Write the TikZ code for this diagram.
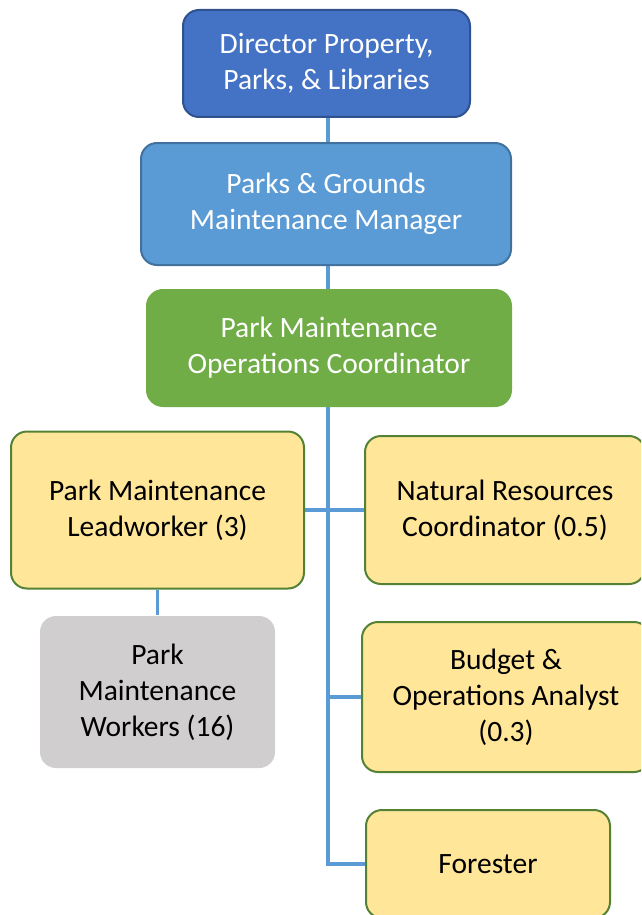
\documentclass[tikz,border=0pt]{standalone}
\usepackage{fontspec}
\setmainfont{Carlito}
\usetikzlibrary{backgrounds}
\definecolor{dirfill}{HTML}{4472C4}
\definecolor{dirdraw}{HTML}{2F528F}
\definecolor{mgrfill}{HTML}{5B9BD5}
\definecolor{mgrdraw}{HTML}{41719C}
\definecolor{cofill}{HTML}{70AD47}
\definecolor{yfill}{HTML}{FFE699}
\definecolor{ydraw}{HTML}{548235}
\definecolor{gfill}{HTML}{D0CECE}
\definecolor{linkc}{HTML}{5B9BD5}
\begin{document}
\begin{tikzpicture}[x=1pt,y=-1pt,
  box/.style={rounded corners=16pt, line width=2pt, align=center, inner sep=0pt,
    font=\fontsize{29.5}{36}\selectfont},
  dirbox/.style={box, fill=dirfill, draw=dirdraw, text=white},
  mgrbox/.style={box, fill=mgrfill, draw=mgrdraw, text=white},
  cobox/.style={box, fill=cofill, draw=cofill, text=white},
  ybox/.style={box, fill=yfill, draw=ydraw, text=black},
  gbox/.style={box, fill=gfill, draw=none, text=black},
  link/.style={draw=linkc, line width=3.5pt}]
\useasboundingbox (0,0) rectangle (641,915);
\clip (0,0) rectangle (641,915);
\node[dirbox, minimum width=287pt, minimum height=107pt] (dir) at (326.5,63.5) {Director Property,\\Parks, \& Libraries};
\node[mgrbox, minimum width=370pt, minimum height=122pt] (mgr) at (326,204) {Parks \& Grounds\\Maintenance Manager};
\node[cobox, minimum width=364pt, minimum height=116pt] (co) at (329,348) {Park Maintenance\\Operations Coordinator};
\node[ybox, minimum width=293pt, minimum height=157pt] (lead) at (157.5,510) {Park Maintenance\\Leadworker (3)};
\node[ybox, minimum width=280pt, minimum height=148pt] (nat) at (505,510) {Natural Resources\\Coordinator (0.5)};
\node[gbox, minimum width=235pt, minimum height=152pt] (work) at (157.5,692) {Park\\Maintenance\\Workers (16)};
\node[ybox, minimum width=288pt, minimum height=150pt] (bud) at (506,697) {Budget \&\\Operations Analyst\\(0.3)};
\node[ybox, minimum width=244pt, minimum height=108pt] (for) at (488,864) {Forester};
% connectors
\begin{scope}[on background layer]
\coordinate (trunk) at (328,406);
\draw[link] (dir.south -| trunk) -- (mgr.north -| trunk);
\draw[link] (mgr.south -| trunk) -- (co.north -| trunk);
\draw[link] (co.south -| trunk) |- (for.west);
\draw[link] (trunk |- bud.west) -- (bud.west);
\draw[link] (lead.east) -- (nat.west);
\draw[link] (lead.south) -- (work.north);
\end{scope}
\end{tikzpicture}
\end{document}
